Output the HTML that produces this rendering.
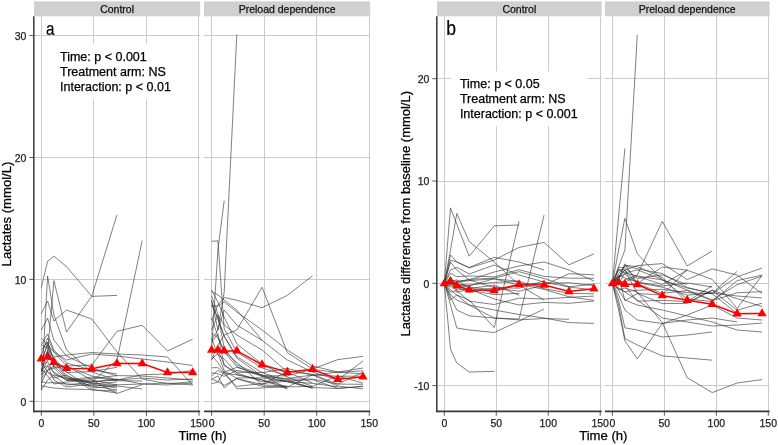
<!DOCTYPE html>
<html><head><meta charset="utf-8"><style>
html,body{margin:0;padding:0;background:#fff;}
svg{display:block;will-change:transform;}
text{font-family:"Liberation Sans",sans-serif;stroke-width:0.25px;}
.g{stroke:#cacaca;stroke-width:1;fill:none;}
.s{stroke:#303030;stroke-width:0.62;fill:none;stroke-linejoin:round;}
.m{stroke:#ff0000;stroke-width:1.5;fill:none;}
.tk{stroke:#5a5a5a;stroke-width:1;}
.st{font-size:10.5px;fill:#111;stroke:#111;}
.tl{font-size:10.5px;fill:#222;stroke:#222;}
.at{font-size:13.1px;fill:#000;stroke:#000;}
.pl{font-size:18px;fill:#000;stroke:#000;stroke-width:0.2px;}
.an{font-size:12.5px;fill:#000;stroke:#000;}
</style></head><body>
<svg width="778" height="445" viewBox="0 0 778 445">
<rect width="778" height="445" fill="#fff"/>
<line x1="41.50" y1="16.3" x2="41.50" y2="411.5" class="g"/>
<line x1="93.50" y1="16.3" x2="93.50" y2="411.5" class="g"/>
<line x1="146.50" y1="16.3" x2="146.50" y2="411.5" class="g"/>
<line x1="198.50" y1="16.3" x2="198.50" y2="411.5" class="g"/>
<line x1="34.0" y1="401.50" x2="200.2" y2="401.50" class="g"/>
<line x1="34.0" y1="279.50" x2="200.2" y2="279.50" class="g"/>
<line x1="34.0" y1="157.50" x2="200.2" y2="157.50" class="g"/>
<line x1="34.0" y1="35.50" x2="200.2" y2="35.50" class="g"/>
<line x1="211.50" y1="16.3" x2="211.50" y2="411.5" class="g"/>
<line x1="264.50" y1="16.3" x2="264.50" y2="411.5" class="g"/>
<line x1="316.50" y1="16.3" x2="316.50" y2="411.5" class="g"/>
<line x1="369.50" y1="16.3" x2="369.50" y2="411.5" class="g"/>
<line x1="204.0" y1="401.50" x2="370.2" y2="401.50" class="g"/>
<line x1="204.0" y1="279.50" x2="370.2" y2="279.50" class="g"/>
<line x1="204.0" y1="157.50" x2="370.2" y2="157.50" class="g"/>
<line x1="204.0" y1="35.50" x2="370.2" y2="35.50" class="g"/>
<line x1="444.50" y1="16.3" x2="444.50" y2="411.5" class="g"/>
<line x1="496.50" y1="16.3" x2="496.50" y2="411.5" class="g"/>
<line x1="548.50" y1="16.3" x2="548.50" y2="411.5" class="g"/>
<line x1="600.50" y1="16.3" x2="600.50" y2="411.5" class="g"/>
<line x1="437.0" y1="385.50" x2="601.7" y2="385.50" class="g"/>
<line x1="437.0" y1="283.50" x2="601.7" y2="283.50" class="g"/>
<line x1="437.0" y1="181.50" x2="601.7" y2="181.50" class="g"/>
<line x1="437.0" y1="78.50" x2="601.7" y2="78.50" class="g"/>
<line x1="612.50" y1="16.3" x2="612.50" y2="411.5" class="g"/>
<line x1="664.50" y1="16.3" x2="664.50" y2="411.5" class="g"/>
<line x1="716.50" y1="16.3" x2="716.50" y2="411.5" class="g"/>
<line x1="768.50" y1="16.3" x2="768.50" y2="411.5" class="g"/>
<line x1="604.9" y1="385.50" x2="769.6" y2="385.50" class="g"/>
<line x1="604.9" y1="283.50" x2="769.6" y2="283.50" class="g"/>
<line x1="604.9" y1="181.50" x2="769.6" y2="181.50" class="g"/>
<line x1="604.9" y1="78.50" x2="769.6" y2="78.50" class="g"/>
<polyline points="41.3,287.5 47.6,261.2 53.9,256.2 66.5,266.6 91.8,296.4 117.0,295.4" class="s"/>
<polyline points="41.3,360.0 47.6,352.0 53.9,280.7 66.5,332.0 91.8,296.2 117.0,214.7" class="s"/>
<polyline points="41.3,313.7 47.6,301.0 53.9,321.0 66.5,310.0 91.8,319.0 117.0,352.0 142.2,379.0 167.5,383.8 192.7,381.7" class="s"/>
<polyline points="41.3,390.0 47.6,276.0 53.9,315.0 66.5,350.0 91.8,372.0 117.0,380.0" class="s"/>
<polyline points="41.3,375.0 47.6,370.0 53.9,368.0 66.5,366.0 91.8,365.0 117.0,331.3 142.2,325.3 167.5,351.0 192.7,339.2" class="s"/>
<polyline points="41.3,370.0 47.6,365.0 53.9,372.0 66.5,380.0 91.8,382.0 117.0,360.0 142.2,240.6" class="s"/>
<polyline points="41.3,345.0 47.6,348.0 53.9,357.0 66.5,355.0 91.8,352.5 117.0,354.0 142.2,355.0 167.5,357.0 192.7,385.3" class="s"/>
<polyline points="41.3,338.0 47.6,345.0 53.9,352.0 66.5,360.0 91.8,354.0 117.0,356.0 142.2,359.0 167.5,362.0 192.7,365.5" class="s"/>
<polyline points="41.3,365.0 47.6,342.0 53.9,362.0 66.5,378.0 91.8,382.0 117.0,380.0 142.2,374.7 167.5,374.0 192.7,370.4" class="s"/>
<polyline points="41.3,372.0 47.6,350.0 53.9,366.0 66.5,366.0 91.8,380.0 117.0,393.5 142.2,384.6" class="s"/>
<polyline points="41.3,385.8 47.6,387.0 53.9,388.0 66.5,389.0 91.8,389.5 117.0,393.0" class="s"/>
<polyline points="41.3,381.7 47.6,383.0 53.9,382.5 66.5,383.8 91.8,385.9 117.0,384.8 142.2,384.0 167.5,385.0 192.7,383.0" class="s"/>
<polyline points="41.3,372.0 47.6,360.0 53.9,358.0 66.5,372.0 91.8,388.0 117.0,386.0" class="s"/>
<polyline points="41.3,365.3 47.6,362.0 53.9,373.5 66.5,379.7 91.8,377.1 117.0,380.7 142.2,381.0" class="s"/>
<polyline points="41.3,360.0 47.6,345.0 53.9,368.0 66.5,380.7 91.8,378.6 117.0,375.6 142.2,376.0 167.5,378.0 192.7,380.0" class="s"/>
<polyline points="41.3,370.0 47.6,352.0 53.9,362.0 66.5,372.5 91.8,371.5 117.0,367.3" class="s"/>
<polyline points="41.3,378.0 47.6,372.0 53.9,376.0 66.5,385.0 91.8,382.0 117.0,379.0 142.2,384.0 167.5,383.0 192.7,385.0" class="s"/>
<polyline points="41.3,350.0 47.6,342.0 53.9,360.0 66.5,376.0 91.8,384.0 117.0,388.0" class="s"/>
<polyline points="41.3,390.0 47.6,380.0 53.9,375.0 66.5,378.0 91.8,383.0 117.0,386.0 142.2,389.0" class="s"/>
<polyline points="41.3,375.0 47.6,366.0 53.9,380.0 66.5,387.0 91.8,384.0 117.0,382.0" class="s"/>
<polyline points="41.3,355.0 47.6,338.0 53.9,352.0 66.5,366.0 91.8,376.0 117.0,380.0 142.2,378.0 167.5,380.0 192.7,379.0" class="s"/>
<polyline points="41.3,368.0 47.6,376.0 53.9,384.0 66.5,382.0 91.8,380.0 117.0,385.0" class="s"/>
<polyline points="41.3,345.0 47.6,334.0 53.9,350.0 66.5,363.0 91.8,370.0 117.0,374.0" class="s"/>
<polyline points="41.3,383.0 47.6,370.0 53.9,366.0 66.5,378.0 91.8,386.0 117.0,390.0" class="s"/>
<polyline points="41.3,330.0 47.6,318.0 53.9,340.0 66.5,356.0 91.8,368.0 117.0,376.0" class="s"/>
<polyline points="41.3,362.0 47.6,372.0 53.9,378.0 66.5,375.0 91.8,390.0 117.0,391.0" class="s"/>
<polyline points="211.6,340.0 217.9,330.0 224.2,292.0 236.8,34.6" class="s"/>
<polyline points="211.6,350.0 217.9,250.0 224.2,200.6" class="s"/>
<polyline points="211.6,241.3 217.9,240.8 224.2,329.0 236.8,352.0 262.1,368.0 287.3,376.0" class="s"/>
<polyline points="211.6,320.0 217.9,305.0 224.2,297.5 236.8,300.2 262.1,307.7 287.3,295.4 312.5,275.8" class="s"/>
<polyline points="211.6,360.0 217.9,345.0 224.2,335.0 236.8,330.0 262.1,287.2 287.3,352.6 312.5,369.0 337.8,359.6 363.0,356.4" class="s"/>
<polyline points="211.6,291.3 217.9,295.0 224.2,300.0 236.8,310.0 262.1,340.4 287.3,360.0 312.5,372.0 337.8,380.0 363.0,361.0" class="s"/>
<polyline points="211.6,305.6 217.9,306.0 224.2,302.0 236.8,312.0 262.1,330.0 287.3,350.0 312.5,366.0 337.8,372.0 363.0,374.0" class="s"/>
<polyline points="211.6,300.0 217.9,330.0 224.2,310.0 236.8,325.0 262.1,340.4" class="s"/>
<polyline points="211.6,330.0 217.9,315.0 224.2,325.0 236.8,335.0 262.1,350.0 287.3,372.0 312.5,383.0" class="s"/>
<polyline points="211.6,290.2 217.9,302.0 224.2,317.1 236.8,343.7 262.1,364.3 287.3,377.1 312.5,386.4" class="s"/>
<polyline points="211.6,301.3 217.9,319.1 224.2,336.0 236.8,356.6 262.1,372.7 287.3,368.3 312.5,375.4 337.8,372.0 363.0,368.0" class="s"/>
<polyline points="211.6,304.9 217.9,318.0 224.2,336.4 236.8,358.1 262.1,376.2 287.3,381.8 312.5,388.1" class="s"/>
<polyline points="211.6,318.1 217.9,336.2 224.2,351.6 236.8,362.4 262.1,384.9 287.3,386.2" class="s"/>
<polyline points="211.6,333.6 217.9,337.5 224.2,352.0 236.8,366.6 262.1,376.6 287.3,378.5 312.5,375.0 337.8,376.2 363.0,376.2" class="s"/>
<polyline points="211.6,338.4 217.9,354.9 224.2,358.8 236.8,373.0 262.1,381.7 287.3,380.0 312.5,388.2" class="s"/>
<polyline points="211.6,353.9 217.9,349.9 224.2,364.7 236.8,374.6 262.1,379.7 287.3,389.0" class="s"/>
<polyline points="211.6,295.8 217.9,314.1 224.2,348.3 236.8,364.7 262.1,375.8 287.3,375.8 312.5,369.4 337.8,372.5 363.0,370.8" class="s"/>
<polyline points="211.6,367.8 217.9,367.6 224.2,373.2 236.8,374.9 262.1,380.1 287.3,386.9 312.5,386.4 337.8,375.9 363.0,383.2" class="s"/>
<polyline points="211.6,372.7 217.9,373.8 224.2,376.3 236.8,370.4 262.1,374.9 287.3,388.5" class="s"/>
<polyline points="211.6,375.8 217.9,370.5 224.2,373.9 236.8,386.4 262.1,383.6 287.3,381.0 312.5,379.7 337.8,388.4 363.0,386.5" class="s"/>
<polyline points="211.6,383.6 217.9,382.2 224.2,371.7 236.8,388.8 262.1,388.0 287.3,386.5" class="s"/>
<polyline points="211.6,379.1 217.9,381.5 224.2,385.4 236.8,378.8 262.1,386.3 287.3,387.1 312.5,374.8 337.8,386.1 363.0,388.8" class="s"/>
<polyline points="211.6,359.5 217.9,353.3 224.2,370.6 236.8,378.5 262.1,384.6 287.3,371.4 312.5,374.3 337.8,384.2 363.0,372.1" class="s"/>
<polyline points="211.6,342.4 217.9,333.8 224.2,365.9 236.8,372.2 262.1,372.5 287.3,381.5 312.5,383.4 337.8,386.8" class="s"/>
<polyline points="211.6,379.2 217.9,375.9 224.2,387.7 236.8,377.9 262.1,377.9 287.3,381.5 312.5,387.5 337.8,388.5 363.0,386.1" class="s"/>
<polyline points="211.6,355.4 217.9,362.6 224.2,372.3 236.8,367.3 262.1,375.1 287.3,379.3 312.5,379.0 337.8,384.1 363.0,384.3" class="s"/>
<polyline points="444.3,283.3 450.5,207.9 456.8,224.2 469.2,256.2 494.2,225.8 519.1,225.0" class="s"/>
<polyline points="444.3,283.3 450.5,250.0 456.8,213.5 469.2,241.6 494.2,262.0 519.1,285.0 544.1,300.0" class="s"/>
<polyline points="444.3,283.3 450.5,255.0 456.8,262.0 469.2,267.4 494.2,257.3 519.1,262.0 544.1,270.0" class="s"/>
<polyline points="444.3,283.3 450.5,270.0 456.8,267.4 469.2,274.0 494.2,265.0 519.1,275.0 544.1,282.0 569.0,287.0 594.0,290.0" class="s"/>
<polyline points="444.3,283.3 450.5,262.0 456.8,270.0 469.2,280.0 494.2,272.0 519.1,266.0 544.1,262.0 569.0,270.0 594.0,281.0" class="s"/>
<polyline points="444.3,283.3 450.5,290.0 456.8,295.0 469.2,300.0 494.2,327.6 519.1,221.3" class="s"/>
<polyline points="444.3,283.3 450.5,300.0 456.8,295.0 469.2,305.0 494.2,318.0 519.1,319.0 544.1,215.0" class="s"/>
<polyline points="444.3,283.3 450.5,260.0 456.8,262.0 469.2,268.0 494.2,260.0 519.1,247.4 544.1,242.4 569.0,264.8 594.0,253.8" class="s"/>
<polyline points="444.3,283.3 450.5,349.0 456.8,363.0 469.2,372.0 494.2,371.4" class="s"/>
<polyline points="444.3,283.3 450.5,305.0 456.8,328.0 469.2,330.0 494.2,332.5 519.1,321.0 544.1,309.0" class="s"/>
<polyline points="444.3,283.3 450.5,297.0 456.8,310.0 469.2,315.8 494.2,318.0 519.1,319.9 544.1,318.5 569.0,319.3" class="s"/>
<polyline points="444.3,283.3 450.5,295.0 456.8,300.0 469.2,305.0 494.2,310.0 519.1,314.5 544.1,318.0 569.0,322.6 594.0,323.4" class="s"/>
<polyline points="444.3,283.3 450.5,282.7 456.8,287.2 469.2,292.0 494.2,288.0 519.1,291.2 544.1,285.2 569.0,273.7 594.0,274.8" class="s"/>
<polyline points="444.3,283.3 450.5,284.8 456.8,284.4 469.2,285.0 494.2,282.4 519.1,281.4 544.1,288.6 569.0,293.3 594.0,293.8" class="s"/>
<polyline points="444.3,283.3 450.5,279.5 456.8,281.9 469.2,279.3 494.2,278.2 519.1,271.7 544.1,278.5 569.0,286.7 594.0,284.2" class="s"/>
<polyline points="444.3,283.3 450.5,281.3 456.8,292.4 469.2,289.0 494.2,299.0 519.1,305.0 544.1,302.4 569.0,303.3 594.0,301.0" class="s"/>
<polyline points="444.3,283.3 450.5,279.5 456.8,285.0 469.2,287.4 494.2,289.6 519.1,284.3 544.1,283.4 569.0,282.7 594.0,285.6" class="s"/>
<polyline points="444.3,283.3 450.5,284.2 456.8,282.4 469.2,280.6 494.2,278.9 519.1,281.2" class="s"/>
<polyline points="444.3,283.3 450.5,279.7 456.8,284.9 469.2,290.2 494.2,294.6 519.1,293.3" class="s"/>
<polyline points="444.3,283.3 450.5,285.7 456.8,281.3 469.2,280.0 494.2,287.5 519.1,288.2 544.1,280.9" class="s"/>
<polyline points="444.3,283.3 450.5,281.9 456.8,279.8 469.2,288.4 494.2,292.0 519.1,284.2 544.1,289.4 569.0,296.8 594.0,300.4" class="s"/>
<polyline points="444.3,283.3 450.5,287.1 456.8,285.0 469.2,285.9 494.2,278.7 519.1,285.1" class="s"/>
<polyline points="444.3,283.3 450.5,273.3 456.8,276.6 469.2,275.9 494.2,276.9 519.1,269.7 544.1,276.4 569.0,278.2 594.0,278.3" class="s"/>
<polyline points="444.3,283.3 450.5,292.0 456.8,290.6 469.2,301.2 494.2,304.5 519.1,298.1 544.1,299.0 569.0,297.3 594.0,296.1" class="s"/>
<polyline points="444.3,283.3 450.5,277.1 456.8,290.0 469.2,288.6 494.2,285.1 519.1,295.2" class="s"/>
<polyline points="612.4,283.3 624.9,250.0 637.3,35.0" class="s"/>
<polyline points="612.4,283.3 624.9,148.4" class="s"/>
<polyline points="612.4,283.3 618.6,250.0 624.9,218.3 637.3,253.7 662.3,280.0 687.2,288.0 712.2,293.0 737.1,296.0 762.1,298.0" class="s"/>
<polyline points="612.4,283.3 618.6,285.0 624.9,280.0 637.3,275.0 662.3,221.3 687.2,266.0 712.2,251.0" class="s"/>
<polyline points="612.4,283.3 618.6,290.0 624.9,288.0 637.3,292.0 662.3,322.6 687.2,377.6 712.2,392.6 737.1,383.0 762.1,379.6" class="s"/>
<polyline points="612.4,283.3 618.6,310.0 624.9,340.8 637.3,358.9 662.3,323.5 687.2,320.0 712.2,318.0 737.1,322.0" class="s"/>
<polyline points="612.4,283.3 618.6,305.0 624.9,338.6 637.3,345.0 662.3,355.9 687.2,358.0 712.2,360.2" class="s"/>
<polyline points="612.4,283.3 618.6,275.0 624.9,278.0 637.3,282.0 662.3,286.0 687.2,283.0 712.2,287.0" class="s"/>
<polyline points="612.4,283.3 618.6,270.0 624.9,273.0 637.3,276.0 662.3,280.0 687.2,290.0 712.2,300.0 737.1,284.7 762.1,276.1" class="s"/>
<polyline points="612.4,283.3 618.6,300.0 624.9,327.8 637.3,330.0 662.3,337.0 687.2,335.0 712.2,332.0" class="s"/>
<polyline points="612.4,283.3 618.6,295.0 624.9,310.0 637.3,320.0 662.3,323.5 687.2,315.0 712.2,305.0 737.1,318.0 762.1,320.0" class="s"/>
<polyline points="612.4,283.3 618.6,290.0 624.9,300.0 637.3,305.0 662.3,310.0 687.2,316.0 712.2,322.0 737.1,330.0 762.1,332.0" class="s"/>
<polyline points="612.4,283.3 618.6,288.0 624.9,292.0 637.3,300.0 662.3,318.0 687.2,322.0 712.2,326.0 737.1,325.0 762.1,323.0" class="s"/>
<polyline points="612.4,283.3 618.6,269.6 624.9,269.8 637.3,283.7 662.3,293.4 687.2,290.6 712.2,300.7 737.1,292.8 762.1,291.6" class="s"/>
<polyline points="612.4,283.3 618.6,277.1 624.9,270.0 637.3,265.6 662.3,263.6 687.2,279.6 712.2,268.9 737.1,275.0 762.1,293.6" class="s"/>
<polyline points="612.4,283.3 618.6,276.8 624.9,274.2 637.3,282.7 662.3,287.2 687.2,295.2 712.2,293.1 737.1,271.4" class="s"/>
<polyline points="612.4,283.3 618.6,267.6 624.9,267.7 637.3,278.5 662.3,274.9 687.2,284.6" class="s"/>
<polyline points="612.4,283.3 618.6,278.8 624.9,286.0 637.3,301.2 662.3,300.4 687.2,301.5 712.2,285.9" class="s"/>
<polyline points="612.4,283.3 618.6,278.3 624.9,263.8 637.3,283.5 662.3,267.0 687.2,270.2" class="s"/>
<polyline points="612.4,283.3 618.6,284.0 624.9,272.9 637.3,269.9 662.3,279.4 687.2,299.0 712.2,301.5 737.1,280.6 762.1,275.1" class="s"/>
<polyline points="612.4,283.3 618.6,288.2 624.9,291.6 637.3,290.2 662.3,289.3 687.2,292.7 712.2,293.7 737.1,276.9 762.1,268.0" class="s"/>
<polyline points="612.4,283.3 618.6,273.7 624.9,265.9 637.3,268.8 662.3,273.6 687.2,287.4 712.2,293.8 737.1,313.4" class="s"/>
<polyline points="612.4,283.3 618.6,279.6 624.9,265.2 637.3,266.7 662.3,277.4 687.2,302.7 712.2,290.2 737.1,310.2 762.1,303.2" class="s"/>
<polyline points="612.4,283.3 618.6,281.2 624.9,282.2 637.3,276.4 662.3,284.5 687.2,270.2 712.2,279.4 737.1,308.4 762.1,275.4" class="s"/>
<polyline points="612.4,283.3 618.6,276.2 624.9,300.6 637.3,293.5 662.3,295.1 687.2,269.4" class="s"/>
<polyline points="612.4,283.3 618.6,278.1 624.9,270.1 637.3,293.4 662.3,303.6 687.2,303.4 712.2,290.3 737.1,298.7 762.1,306.6" class="s"/>
<rect x="51.4" y="44.2" width="128" height="55" fill="#fff"/>
<rect x="451.3" y="71.3" width="136.4" height="54.9" fill="#fff"/>
<polyline points="41.30,358.90 47.61,357.00 53.92,362.20 66.53,368.40 91.76,368.70 116.99,363.50 142.22,363.50 167.46,372.50 192.69,372.50" class="m"/>
<polygon points="41.30,353.53 45.95,361.58 36.65,361.58" fill="#ff0000"/>
<polygon points="47.61,351.63 52.25,359.68 42.96,359.68" fill="#ff0000"/>
<polygon points="53.92,356.83 58.56,364.88 49.27,364.88" fill="#ff0000"/>
<polygon points="66.53,363.03 71.18,371.08 61.88,371.08" fill="#ff0000"/>
<polygon points="91.76,363.33 96.41,371.38 87.12,371.38" fill="#ff0000"/>
<polygon points="116.99,358.13 121.64,366.18 112.35,366.18" fill="#ff0000"/>
<polygon points="142.22,358.13 146.87,366.18 137.58,366.18" fill="#ff0000"/>
<polygon points="167.46,367.13 172.10,375.18 162.81,375.18" fill="#ff0000"/>
<polygon points="192.69,367.13 197.33,375.18 188.04,375.18" fill="#ff0000"/>
<polyline points="211.60,350.00 217.91,350.00 224.22,350.90 236.83,350.90 262.06,364.70 287.29,372.20 312.52,369.20 337.76,379.30 362.99,376.90" class="m"/>
<polygon points="211.60,344.63 216.25,352.68 206.95,352.68" fill="#ff0000"/>
<polygon points="217.91,344.63 222.55,352.68 213.26,352.68" fill="#ff0000"/>
<polygon points="224.22,345.53 228.86,353.58 219.57,353.58" fill="#ff0000"/>
<polygon points="236.83,345.53 241.48,353.58 232.18,353.58" fill="#ff0000"/>
<polygon points="262.06,359.33 266.71,367.38 257.42,367.38" fill="#ff0000"/>
<polygon points="287.29,366.83 291.94,374.88 282.65,374.88" fill="#ff0000"/>
<polygon points="312.52,363.83 317.17,371.88 307.88,371.88" fill="#ff0000"/>
<polygon points="337.76,373.93 342.40,381.98 333.11,381.98" fill="#ff0000"/>
<polygon points="362.99,371.53 367.63,379.58 358.34,379.58" fill="#ff0000"/>
<polyline points="444.30,283.50 450.54,281.40 456.77,285.70 469.24,289.90 494.19,290.50 519.13,284.60 544.07,285.00 569.02,291.50 593.96,288.70" class="m"/>
<polygon points="444.30,278.13 448.95,286.18 439.65,286.18" fill="#ff0000"/>
<polygon points="450.54,276.03 455.18,284.08 445.89,284.08" fill="#ff0000"/>
<polygon points="456.77,280.33 461.42,288.38 452.13,288.38" fill="#ff0000"/>
<polygon points="469.24,284.53 473.89,292.58 464.60,292.58" fill="#ff0000"/>
<polygon points="494.19,285.13 498.83,293.18 489.54,293.18" fill="#ff0000"/>
<polygon points="519.13,279.23 523.78,287.28 514.48,287.28" fill="#ff0000"/>
<polygon points="544.07,279.63 548.72,287.68 539.43,287.68" fill="#ff0000"/>
<polygon points="569.02,286.13 573.66,294.18 564.37,294.18" fill="#ff0000"/>
<polygon points="593.96,283.33 598.61,291.38 589.31,291.38" fill="#ff0000"/>
<polyline points="612.40,283.50 618.64,282.50 624.87,284.20 637.34,284.60 662.29,295.60 687.23,300.20 712.17,304.20 737.12,313.70 762.06,313.60" class="m"/>
<polygon points="612.40,278.13 617.05,286.18 607.75,286.18" fill="#ff0000"/>
<polygon points="618.64,277.13 623.28,285.18 613.99,285.18" fill="#ff0000"/>
<polygon points="624.87,278.83 629.52,286.88 620.23,286.88" fill="#ff0000"/>
<polygon points="637.34,279.23 641.99,287.28 632.70,287.28" fill="#ff0000"/>
<polygon points="662.29,290.23 666.93,298.28 657.64,298.28" fill="#ff0000"/>
<polygon points="687.23,294.83 691.88,302.88 682.58,302.88" fill="#ff0000"/>
<polygon points="712.17,298.83 716.82,306.88 707.53,306.88" fill="#ff0000"/>
<polygon points="737.12,308.33 741.76,316.38 732.47,316.38" fill="#ff0000"/>
<polygon points="762.06,308.23 766.71,316.28 757.41,316.28" fill="#ff0000"/>
<rect x="34.0" y="1.4" width="166.20" height="14.9" fill="#d0d0d0"/>
<text x="117.10" y="12.6" class="st" text-anchor="middle">Control</text>
<rect x="204.0" y="1.4" width="166.20" height="14.9" fill="#d0d0d0"/>
<text x="287.10" y="12.6" class="st" text-anchor="middle">Preload dependence</text>
<rect x="437.0" y="1.4" width="164.70" height="14.9" fill="#d0d0d0"/>
<text x="519.35" y="12.6" class="st" text-anchor="middle">Control</text>
<rect x="604.9" y="1.4" width="164.70" height="14.9" fill="#d0d0d0"/>
<text x="687.25" y="12.6" class="st" text-anchor="middle">Preload dependence</text>
<line x1="33.8" y1="16.3" x2="33.8" y2="412.3" stroke="#383838" stroke-width="1.5"/>
<line x1="436.8" y1="16.3" x2="436.8" y2="412.3" stroke="#383838" stroke-width="1.5"/>
<line x1="33.1" y1="411.4" x2="200.2" y2="411.4" stroke="#383838" stroke-width="1.6"/>
<line x1="41.30" y1="412" x2="41.30" y2="415.8" class="tk"/>
<text x="41.30" y="427.2" class="tl" text-anchor="middle">0</text>
<line x1="93.86" y1="412" x2="93.86" y2="415.8" class="tk"/>
<text x="93.86" y="427.2" class="tl" text-anchor="middle">50</text>
<line x1="146.43" y1="412" x2="146.43" y2="415.8" class="tk"/>
<text x="146.43" y="427.2" class="tl" text-anchor="middle">100</text>
<line x1="199.00" y1="412" x2="199.00" y2="415.8" class="tk"/>
<text x="199.00" y="427.2" class="tl" text-anchor="middle">150</text>
<line x1="204.0" y1="411.4" x2="370.2" y2="411.4" stroke="#383838" stroke-width="1.6"/>
<line x1="211.60" y1="412" x2="211.60" y2="415.8" class="tk"/>
<text x="211.60" y="427.2" class="tl" text-anchor="middle">0</text>
<line x1="264.16" y1="412" x2="264.16" y2="415.8" class="tk"/>
<text x="264.16" y="427.2" class="tl" text-anchor="middle">50</text>
<line x1="316.73" y1="412" x2="316.73" y2="415.8" class="tk"/>
<text x="316.73" y="427.2" class="tl" text-anchor="middle">100</text>
<line x1="369.29" y1="412" x2="369.29" y2="415.8" class="tk"/>
<text x="369.29" y="427.2" class="tl" text-anchor="middle">150</text>
<line x1="436.1" y1="411.4" x2="601.7" y2="411.4" stroke="#383838" stroke-width="1.6"/>
<line x1="444.30" y1="412" x2="444.30" y2="415.8" class="tk"/>
<text x="444.30" y="427.2" class="tl" text-anchor="middle">0</text>
<line x1="496.26" y1="412" x2="496.26" y2="415.8" class="tk"/>
<text x="496.26" y="427.2" class="tl" text-anchor="middle">50</text>
<line x1="548.23" y1="412" x2="548.23" y2="415.8" class="tk"/>
<text x="548.23" y="427.2" class="tl" text-anchor="middle">100</text>
<line x1="600.19" y1="412" x2="600.19" y2="415.8" class="tk"/>
<text x="600.19" y="427.2" class="tl" text-anchor="middle">150</text>
<line x1="604.9" y1="411.4" x2="769.6" y2="411.4" stroke="#383838" stroke-width="1.6"/>
<line x1="612.40" y1="412" x2="612.40" y2="415.8" class="tk"/>
<text x="612.40" y="427.2" class="tl" text-anchor="middle">0</text>
<line x1="664.37" y1="412" x2="664.37" y2="415.8" class="tk"/>
<text x="664.37" y="427.2" class="tl" text-anchor="middle">50</text>
<line x1="716.33" y1="412" x2="716.33" y2="415.8" class="tk"/>
<text x="716.33" y="427.2" class="tl" text-anchor="middle">100</text>
<line x1="768.29" y1="412" x2="768.29" y2="415.8" class="tk"/>
<text x="768.29" y="427.2" class="tl" text-anchor="middle">150</text>
<line x1="29.3" y1="401.30" x2="33" y2="401.30" class="tk"/>
<text x="26.4" y="405.50" class="tl" text-anchor="end">0</text>
<line x1="29.3" y1="279.40" x2="33" y2="279.40" class="tk"/>
<text x="26.4" y="283.60" class="tl" text-anchor="end">10</text>
<line x1="29.3" y1="157.50" x2="33" y2="157.50" class="tk"/>
<text x="26.4" y="161.70" class="tl" text-anchor="end">20</text>
<line x1="29.3" y1="35.60" x2="33" y2="35.60" class="tk"/>
<text x="26.4" y="39.80" class="tl" text-anchor="end">30</text>
<line x1="432.3" y1="385.60" x2="436" y2="385.60" class="tk"/>
<text x="429.4" y="389.80" class="tl" text-anchor="end">-10</text>
<line x1="432.3" y1="283.30" x2="436" y2="283.30" class="tk"/>
<text x="429.4" y="287.50" class="tl" text-anchor="end">0</text>
<line x1="432.3" y1="181.00" x2="436" y2="181.00" class="tk"/>
<text x="429.4" y="185.20" class="tl" text-anchor="end">10</text>
<line x1="432.3" y1="78.70" x2="436" y2="78.70" class="tk"/>
<text x="429.4" y="82.90" class="tl" text-anchor="end">20</text>
<text x="202.6" y="440.2" class="at" text-anchor="middle">Time (h)</text>
<text x="603.3" y="440.2" class="at" text-anchor="middle">Time (h)</text>
<text transform="translate(10.9,214) rotate(-90)" class="at" text-anchor="middle">Lactates (mmol/L)</text>
<text transform="translate(410.3,213.8) rotate(-90)" class="at" style="font-size:12.97px" text-anchor="middle">Lactates difference from baseline (mmol/L)</text>
<text transform="translate(45.9,34.8) scale(0.8,1)" class="pl" style="font-size:19px">a</text>
<text transform="translate(446.2,34.9) scale(0.9,1)" class="pl" style="font-size:19.5px">b</text>
<text x="60.0" y="61.00" class="an">Time: p &lt; 0.001</text>
<text x="60.0" y="76.10" class="an">Treatment arm: NS</text>
<text x="60.0" y="91.20" class="an">Interaction: p &lt; 0.01</text>
<text x="459.9" y="87.60" class="an">Time: p &lt; 0.05</text>
<text x="459.9" y="102.70" class="an">Treatment arm: NS</text>
<text x="459.9" y="117.80" class="an">Interaction: p &lt; 0.001</text>
</svg>
</body></html>
